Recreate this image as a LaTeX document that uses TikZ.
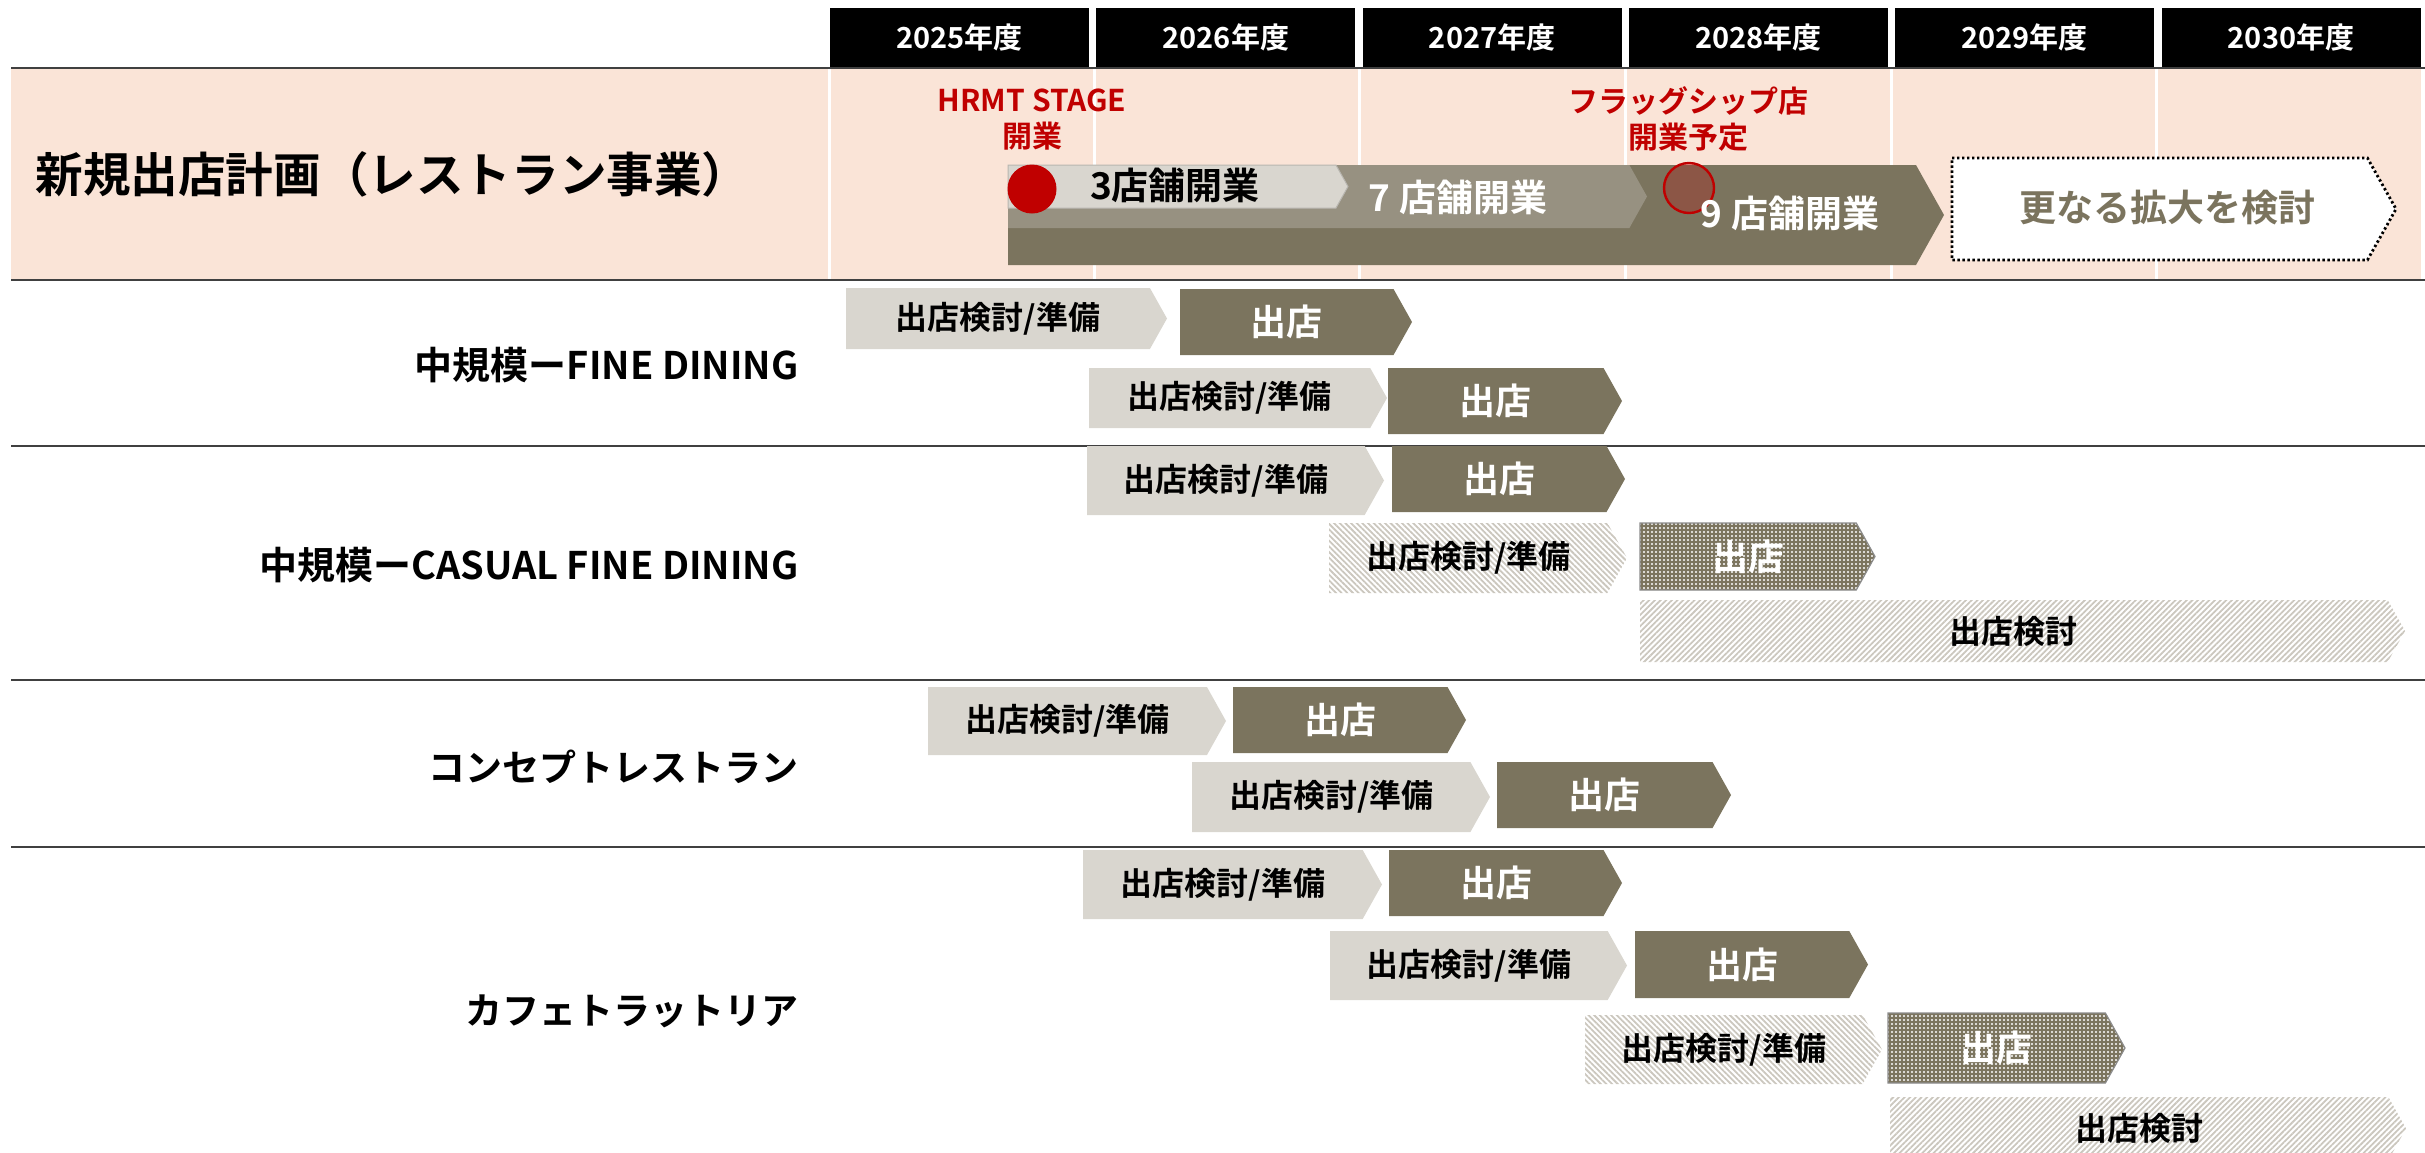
\documentclass[tikz,border=0pt]{standalone}
\usepackage{fontspec}
\setmainfont{Noto Sans CJK JP}[BoldFont={* Bold}]
\usetikzlibrary{patterns.meta}

\definecolor{pinkbg}{HTML}{FAE4D7}
\definecolor{prepgray}{HTML}{D9D6CF}
\definecolor{opendark}{HTML}{7B745E}
\definecolor{midtone}{HTML}{979181}
\definecolor{hatchgray}{HTML}{CBC7BE}
\definecolor{markred}{HTML}{C00000}

\newcommand{\jpsize}[1]{\fontsize{#1}{#1}\selectfont\bfseries}
% chevron: style, x left, x tip, y top, y bottom
\newcommand{\chevpath}[5]{%
  \path[#1] (#2,#4) -- ({#3-0.28*(#5-#4)},#4) -- (#3,{(#4+#5)/2})
    -- ({#3-0.28*(#5-#4)},#5) -- (#2,#5) -- cycle;}
% chevron with its label: style, name, x left, x tip, y top, y bottom, text
\newcommand{\chevbar}[7]{%
  \chevpath{#1}{#3}{#4}{#5}{#6}
  \node[#1 txt] (#2) at ({(#3+#4-0.28*(#6-#5))/2},{(#5+#6)/2}) {#7};}

\begin{document}
\begin{tikzpicture}[x=0.5pt, y=-0.5pt, inner sep=0pt,
yearcell/.style = { fill = black, text = white, minimum width = 129.5pt, minimum height = 29.5pt, font = \jpsize{14.5}},
rowline/.style = { draw = black!75, line width = 1pt },
rowlabel/.style = { anchor = east, font = \jpsize{19} },
note/.style = { align = center, text = markred, font = \fontsize{15}{18}\selectfont\bfseries },
prepbox/.style = { fill = prepgray },
prepbox txt/.style = { font = \jpsize{16}, text = black },
openbox/.style = { fill = opendark },
openbox txt/.style = { font = \jpsize{18}, text = white },
prephatch/.style = { pattern = {Lines[angle=-45, distance=2pt, line width=0.9pt]}, pattern color = hatchgray },
prephatch txt/.style = { prepbox txt },
opendots/.style = { preaction = {fill = opendark}, pattern = {Dots[distance=2pt, radius=0.55pt]}, pattern color = white, draw = black!45, line width = 0.6pt },
opendots txt/.style = { openbox txt },
studyhatch/.style = { pattern = {Lines[angle=45, distance=2pt, line width=0.9pt]}, pattern color = hatchgray },
studyhatch txt/.style = { prepbox txt },
bigdark/.style = { fill = opendark },
bigmid/.style = { fill = midtone },
biglight/.style = { fill = prepgray, draw = prepgray!85!black, line width = 0.5pt },
further/.style = { fill = white, draw = black, line width = 1.4pt, dash pattern = on 1.2pt off 1.3pt },
bigtxt/.style = { font = \jpsize{18.5} }]
\useasboundingbox (0,0) rectangle (2425,1152);

% header and plan band
\fill[pinkbg] (11,69) rectangle (2421,279);
\foreach \x in {829,1094,1359,1625,1891,2156}
  \draw[white, line width = 1.5pt] (\x,69) -- (\x,279);
\foreach \yr [count=\i from 0] in {2025,...,2030}
  \node[yearcell] (y\yr) at ({959.5+266.3*\i},37.5) {\yr 年度};
\foreach \y in {68,280,446,680,847}
  \draw[rowline] (11,\y) -- (2425,\y);

\node[anchor = west, font = \jpsize{23.8}] (plan) at (35,174) {新規出店計画（レストラン事業）};
\node[note] (hrmt) at (1032,120) {HRMT STAGE\\開業};
\node[note] (flag) at (1688,119) {フラッグシップ店\\開業予定};

\chevpath{bigdark}{1008}{1944}{165}{265}
\chevpath{bigmid}{1008}{1647}{165}{228}
\chevpath{biglight}{1008}{1348}{165}{208}
\chevpath{further}{1952}{2396}{158}{260}
\node[circle, fill = markred, minimum size = 24.5pt] (hrmtdot) at (1032,189) {};
\node[circle, draw = markred, line width = 1.2pt, fill = markred, fill opacity = 0.25, minimum size = 25pt] (flagring) at (1689,188) {};
\node[bigtxt] (three) at (1175,185) {3店舗開業};
\node[bigtxt, text = white] (seven) at (1458,197) {7 店舗開業};
\node[bigtxt, text = white] (nine) at (1790,213) {9 店舗開業};
\node[bigtxt, text = opendark] (more) at (2167,208) {更なる拡大を検討};

% row labels
\node[rowlabel] (fine) at (799,365) {中規模ーFINE DINING};
\node[rowlabel] (casual) at (799,565) {中規模ーCASUAL FINE DINING};
\node[rowlabel, font = \jpsize{18.5}] (concept) at (799,767) {コンセプトレストラン};
\node[rowlabel, font = \jpsize{18.5}] (cafe) at (799,1011) {カフェトラットリア};

% fine dining
\chevbar{prepbox}{fdA}{846}{1167}{288}{349}{出店検討/準備}
\chevbar{openbox}{fdB}{1180}{1412}{289}{355}{出店}
\chevbar{prepbox}{fdC}{1089}{1387}{368}{428}{出店検討/準備}
\chevbar{openbox}{fdD}{1388}{1622}{368}{434}{出店}

% casual fine dining
\chevbar{prepbox}{cfA}{1087}{1384}{446}{515}{出店検討/準備}
\chevbar{openbox}{cfB}{1392}{1625}{446}{512}{出店}
\chevbar{prephatch}{cfC}{1329}{1627}{523}{593}{出店検討/準備}
\chevbar{opendots}{cfD}{1640}{1875}{523}{590}{出店}
\chevbar{studyhatch}{cfE}{1640}{2405}{600}{662}{出店検討}

% concept restaurant
\chevbar{prepbox}{csA}{928}{1226}{687}{755}{出店検討/準備}
\chevbar{openbox}{csB}{1233}{1466}{687}{753}{出店}
\chevbar{prepbox}{csC}{1192}{1490}{762}{832}{出店検討/準備}
\chevbar{openbox}{csD}{1497}{1731}{762}{828}{出店}

% cafe trattoria
\chevbar{prepbox}{ctA}{1083}{1382}{850}{919}{出店検討/準備}
\chevbar{openbox}{ctB}{1389}{1622}{850}{916}{出店}
\chevbar{prepbox}{ctC}{1330}{1627}{931}{1000}{出店検討/準備}
\chevbar{openbox}{ctD}{1635}{1868}{931}{998}{出店}
\chevbar{prephatch}{ctE}{1585}{1882}{1015}{1084}{出店検討/準備}
\chevbar{opendots}{ctF}{1888}{2125}{1013}{1083}{出店}
\chevbar{studyhatch}{ctG}{1890}{2406}{1097}{1160}{出店検討}
\end{tikzpicture}
\end{document}
